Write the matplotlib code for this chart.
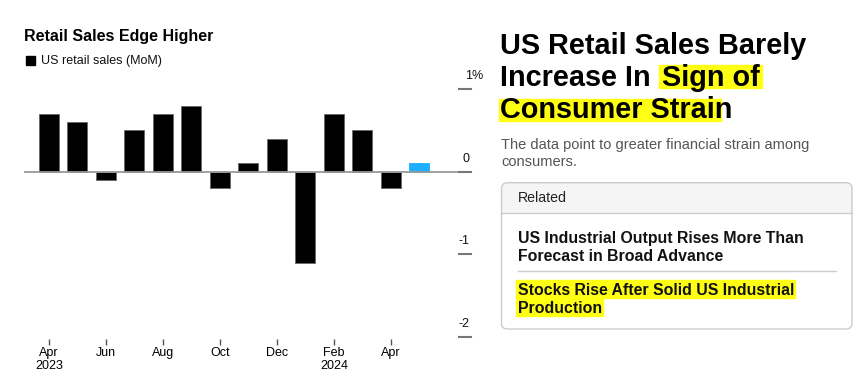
import matplotlib
matplotlib.use("Agg")
import matplotlib.pyplot as plt
from matplotlib.patches import FancyBboxPatch, Rectangle

plt.rcParams['font.family'] = ['Liberation Sans', 'DejaVu Sans']

# data (US retail sales, MoM %)
months = ["Apr", "May", "Jun", "Jul", "Aug", "Sep", "Oct",
          "Nov", "Dec", "Jan", "Feb", "Mar", "Apr", "May"]
sales_mom = [0.7, 0.6, -0.1, 0.5, 0.7, 0.8, -0.2, 0.1, 0.4, -1.1, 0.7, 0.5, -0.2, 0.1]
tick_pos = [0, 2, 4, 6, 8, 10, 12]
tick_labels = ["Apr\n2023", "Jun", "Aug", "Oct", "Dec", "Feb\n2024", "Apr"]
y_ticks = [1, 0, -1, -2]
y_labels = ["1%", "0", "-1", "-2"]

headline = ["US Retail Sales Barely", "Increase In", "Sign of", "Consumer Strain"]
subtitle = ["The data point to greater financial strain among", "consumers."]
related = [["US Industrial Output Rises More Than", "Forecast in Broad Advance"],
           ["Stocks Rise After Solid US Industrial", "Production"]]

W, H = 862, 383
YELLOW = '#ffff14'
fig = plt.figure(figsize=(W / 100, H / 100), dpi=100)

# overlay in pixel coords for the article text
ov = fig.add_axes([0, 0, 1, 1], zorder=0)
ov.set_xlim(0, W)
ov.set_ylim(H, 0)
ov.axis('off')
ov.patch.set_alpha(0)


def px_axes(x0, y0, x1, y1):
    return fig.add_axes([x0 / W, 1 - y1 / H, (x1 - x0) / W, (y1 - y0) / H], zorder=2)


# ---- chart ----
ax = px_axes(24, 72.5, 471, 338.8)
ax.patch.set_alpha(0)
ax.set_xlim(-0.87, 14.81)
ax.set_ylim(-2.02, 1.2)
n = len(sales_mom)
colors = ['black'] * (n - 1) + ['#1aafff']
edges = ['#666666'] * (n - 1) + ['#1aafff']
ax.bar(range(n), sales_mom, width=0.7, color=colors, edgecolor=edges, linewidth=0.6, zorder=2)
ax.axhline(0, color='#999999', lw=1.3, zorder=3)
for v, lab in zip(y_ticks, y_labels):
    ax.plot([14.39, 14.81], [v, v], color='#777777', lw=1.5, clip_on=False, zorder=4)
    if lab.endswith('%'):
        ax.annotate(lab, (14.81, v), xytext=(-4, 9.5), textcoords='offset points',
                    ha='left', va='center', fontsize=9, color='#111')
    else:
        ax.annotate(lab, (14.81, v), xytext=(-1, 9.5), textcoords='offset points',
                    ha='right', va='center', fontsize=9, color='#111')
for s in ax.spines.values():
    s.set_visible(False)
ax.set_yticks([])
ax.set_xticks(tick_pos, tick_labels)
ax.tick_params(axis='x', length=4, width=1, color='#555555', pad=2, labelsize=9)
for t in ax.get_xticklabels():
    t.set_linespacing(1.1)

ov.text(24, 36, "Retail Sales Edge Higher", fontsize=11.5, fontweight='bold', va='center')
ov.add_patch(Rectangle((26, 56), 9, 9, color='black'))
ov.text(41, 61, "US retail sales (MoM)", fontsize=9, va='center', color='#111')

# ---- article panel ----
renderer = fig.canvas.get_renderer()
inv = ov.transData.inverted()


def extent(t):
    bb = t.get_window_extent(renderer)
    (x0, y1), (x1, y0) = inv.transform([[bb.x0, bb.y0], [bb.x1, bb.y1]])
    return x0, y0, x1, y1


hl_kw = dict(fontsize=20.8, fontweight='bold', va='baseline', color='black', zorder=3)
ov.text(500, 53.5, headline[0], **hl_kw)
t2 = ov.text(500, 85.5, headline[1], **hl_kw)
x0, y0, x1, y1 = extent(t2)
t3 = ov.text(x1 + 11, 85.5, headline[2], **hl_kw)
sx0, sy0, sx1, sy1 = extent(t3)
ov.add_patch(Rectangle((sx0 - 3, 65), sx1 - sx0 + 6, 23, color=YELLOW, zorder=1))
t4 = ov.text(500, 118.5, headline[3], **hl_kw)
cx0, cy0, cx1, cy1 = extent(t4)
ov.add_patch(Rectangle((cx0 - 1, 99), cx1 - cx0 - 10, 22, color=YELLOW, zorder=1))

for i, line in enumerate(subtitle):
    ov.text(501, 149.5 + i * 17, line, fontsize=10.5, color='#555555', va='baseline')

# related box
bx0, by0, bx1, by1 = 501.5, 182.7, 852, 329
ov.add_patch(FancyBboxPatch((bx0, by0), bx1 - bx0, by1 - by0,
                            boxstyle="round,pad=0,rounding_size=6",
                            facecolor='#f5f5f5', edgecolor='none', zorder=1))
ov.add_patch(FancyBboxPatch((bx0, 213.3), bx1 - bx0, by1 - 213.3,
                            boxstyle="round,pad=0,rounding_size=6",
                            facecolor='white', edgecolor='none', zorder=1))
ov.add_patch(Rectangle((bx0, 213.3), bx1 - bx0, 12, facecolor='white', edgecolor='none', zorder=1))
ov.add_patch(FancyBboxPatch((bx0, by0), bx1 - bx0, by1 - by0,
                            boxstyle="round,pad=0,rounding_size=6",
                            facecolor='none', edgecolor='#cccccc', lw=1, zorder=2))
ov.plot([bx0, bx1], [213.3, 213.3], color='#cccccc', lw=1, zorder=2)
ov.text(518, 198, "Related", fontsize=10.2, va='center', color='#222222', zorder=3)

item_kw = dict(fontsize=11.4, fontweight='bold', va='baseline', color='#111111', zorder=3)
ov.text(518, 242.5, related[0][0], **item_kw)
ov.text(518, 261, related[0][1], **item_kw)
ov.plot([518, 836], [271, 271], color='#cccccc', lw=1, zorder=2)
for j, base in enumerate([295, 313.3]):
    t = ov.text(518, base, related[1][j], **item_kw)
    ex0, ey0, ex1, ey1 = extent(t)
    ov.add_patch(Rectangle((ex0 - 2, base - 15), ex1 - ex0 + 3, 18, color=YELLOW, zorder=1))

fig.savefig("out.png", dpi=100)
